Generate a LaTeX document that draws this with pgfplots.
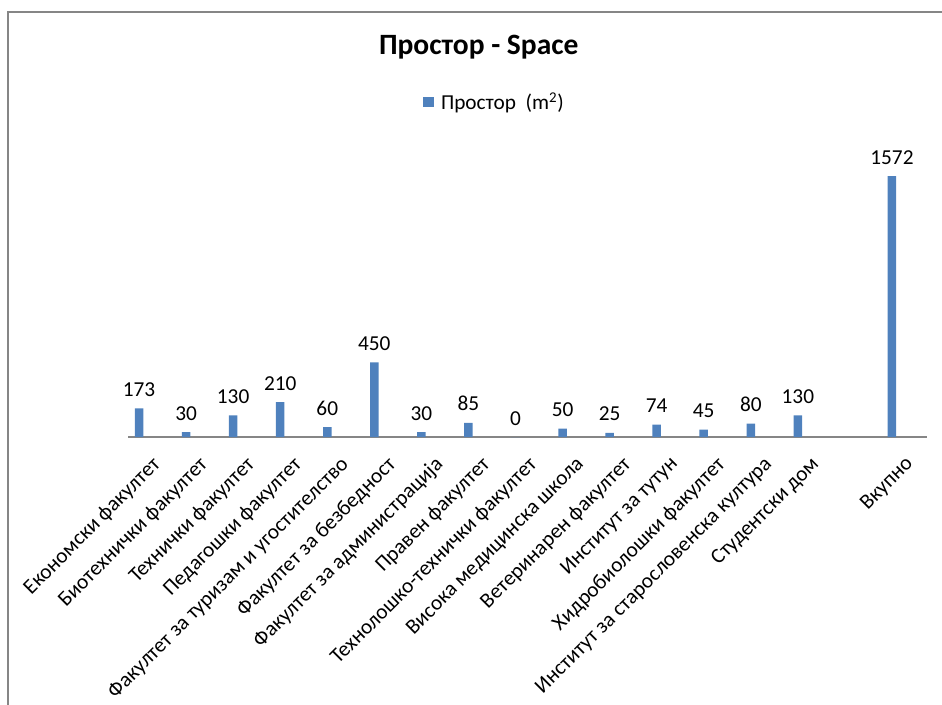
\documentclass[border=0pt]{standalone}
\usepackage{fontspec}
\setmainfont{Carlito}
\usepackage{pgfplots}
\pgfplotsset{compat=1.18}
\definecolor{barblue}{RGB}{79,129,189}
\definecolor{framegray}{RGB}{134,134,134}
\newcommand{\lblfont}{\fontsize{21.3bp}{25bp}\selectfont}
\begin{document}
\begin{tikzpicture}
\path[use as bounding box] (0,0) rectangle (942bp,-705bp);
% chart area frame (only top and left edges are visible in the crop)
\draw[framegray, line width=1.5bp] (8bp,-705bp) -- (8bp,-12bp) -- (942bp,-12bp);
\begin{axis}[
    at={(128bp,-437bp)}, anchor=south west,
    x=47.06bp, y=0.16603bp,
    xmin=-0.234, xmax=16.744, ymin=0, ymax=1800,
    ybar, bar width=8.5bp,
    axis x line*=bottom, axis y line=none,
    x axis line style={framegray, line width=1.3bp, -},
    xtick={0,...,16}, major tick length=0pt, ytick=\empty,
    xticklabels={Економски факултет,Биотехнички факултет,Технички факултет,Педагошки факултет,Факултет за туризам и угостителство,Факултет за безбедност,Факултет за администрација,Правен факултет,Технолошко-технички факултет,Висока медицинска школа,Ветеринарен факултет,Институт за тутун,Хидробиолошки факултет,Институт за старословенска култура,Студентски дом,{},Вкупно},
    xticklabel style={font=\lblfont, xshift=12bp, yshift=-18bp, rotate=45, anchor=north east, inner sep=0pt},
    nodes near coords,
    nodes near coords style={font=\lblfont, anchor=base, yshift=12bp, inner sep=0pt, black},
    /pgf/number format/assume math mode=true,
    /pgf/number format/1000 sep={},
    title={Простор - Space},
    title style={at={(0.439,1.2613)}, anchor=base, font=\bfseries\fontsize{29.5bp}{33bp}\selectfont, inner sep=0pt},
    legend style={draw=none, fill=none, at={(0.369,1.1208)}, anchor=west, font=\lblfont, inner sep=0pt},
    legend image code/.code={\fill[barblue] (0bp,-5bp) rectangle (11bp,5bp);},
    legend cell align=left,
    clip=false,
]
\addplot[fill=barblue, draw=none] coordinates {
    (0,173) (1,30) (2,130) (3,210) (4,60) (5,450) (6,30) (7,85)
    (8,0) (9,50) (10,25) (11,74) (12,45) (13,80) (14,130) (16,1572)
};
\legend{\hspace*{5bp}Простор\ \ (m\textsuperscript{2})}
\end{axis}
\end{tikzpicture}
\end{document}
